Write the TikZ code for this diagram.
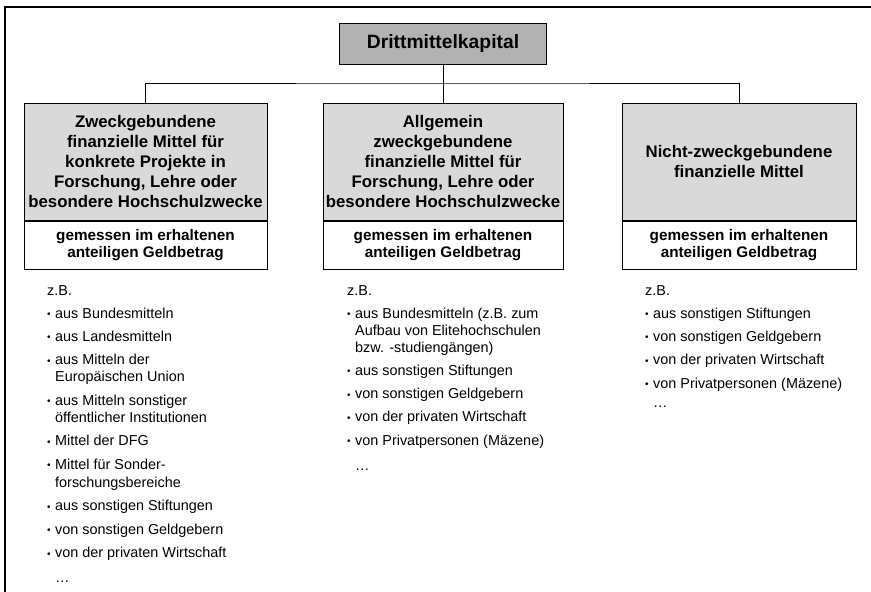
\documentclass[tikz,border=0pt]{standalone}
\usepackage{fontspec}
\setmainfont{Liberation Sans}
\usetikzlibrary{positioning}
\definecolor{dunkelgrau}{gray}{0.70}
\definecolor{hellgrau}{gray}{0.85}
\newcommand{\bul}{\makebox[8pt][l]{\raisebox{0.5pt}{\fontsize{10}{10}\selectfont\textbullet}}}
\newcommand{\ind}{\hspace*{8pt}}
\tikzset{
	kopf/.style={draw,fill=dunkelgrau,line width=1pt,inner sep=0pt,minimum width=207pt,minimum height=41pt,font=\fontsize{19.3}{23}\selectfont\bfseries},
	art/.style={draw,fill=hellgrau,line width=1pt,inner sep=0pt,minimum height=117pt,align=center,font=\fontsize{16.8}{20.2}\selectfont\bfseries},
	mass/.style={draw,fill=white,line width=1pt,inner sep=0pt,minimum height=48pt,align=center,font=\fontsize{15.3}{17.5}\selectfont\bfseries},
	liste/.style={anchor=north west,inner sep=0pt,align=left,font=\fontsize{14.4}{17}\selectfont},
}
\begin{document}
\begin{tikzpicture}[x=1pt,y=-1pt,node distance=0pt]
		\useasboundingbox (0,0) rectangle (871,592);
		\draw[line width=1.6pt] (5,592) -- (5,7) -- (871,7);
		\node[kopf] (dmk) at (443,43.5) {Drittmittelkapital};
		\node[art,minimum width=243pt] (z1) at (145.5,161.5) {Zweckgebundene\\finanzielle Mittel für\\konkrete Projekte in\\Forschung, Lehre oder\\besondere Hochschulzwecke};
		\node[art,minimum width=240pt] (z2) at (443,161.5) {Allgemein\\zweckgebundene\\finanzielle Mittel für\\Forschung, Lehre oder\\besondere Hochschulzwecke};
		\node[art,minimum width=234pt] (z3) at (739,161.5) {Nicht-zweckgebundene\\finanzielle Mittel};
		\node[mass,minimum width=243pt,below=of z1] (m1) {gemessen im erhaltenen\\anteiligen Geldbetrag};
		\node[mass,minimum width=240pt,below=of z2] (m2) {gemessen im erhaltenen\\anteiligen Geldbetrag};
		\node[mass,minimum width=234pt,below=of z3] (m3) {gemessen im erhaltenen\\anteiligen Geldbetrag};
		\coordinate (bus) at (443,83);
		\draw[line width=1pt] (dmk.south) -- (z2.north);
		\draw[line width=1pt] (z1.north) |- (bus) -| (z3.north);
		% Beispiele
		\node[liste] (l1) at (47,285) {z.B.\\[6pt]
			\bul aus Bundesmitteln\\[6pt]
			\bul aus Landesmitteln\\[6.5pt]
			\bul aus Mitteln der\\ \ind Europäischen Union\\[6.5pt]
			\bul aus Mitteln sonstiger\\ \ind öffentlicher Institutionen\\[6.5pt]
			\bul Mittel der DFG\\[6.5pt]
			\bul Mittel für Sonder-\\[1pt] \ind forschungsbereiche\\[6.5pt]
			\bul aus sonstigen Stiftungen\\[6.5pt]
			\bul von sonstigen Geldgebern\\[6.5pt]
			\bul von der privaten Wirtschaft\\[8pt]
			\ind …};
		\node[liste] (l2) at (347,285) {z.B.\\[6pt]
			\bul aus Bundesmitteln (z.B. zum\\ \ind Aufbau von Elitehochschulen\\ \ind bzw. -studiengängen)\\[6pt]
			\bul aus sonstigen Stiftungen\\[6.5pt]
			\bul von sonstigen Geldgebern\\[6pt]
			\bul von der privaten Wirtschaft\\[6.5pt]
			\bul von Privatpersonen (Mäzene)\\[8pt]
			\ind …};
		\node[liste] (l3) at (645,285) {z.B.\\[6pt]
			\bul aus sonstigen Stiftungen\\[6pt]
			\bul von sonstigen Geldgebern\\[6.5pt]
			\bul von der privaten Wirtschaft\\[6.5pt]
			\bul von Privatpersonen (Mäzene)\\[2pt]
			\ind …};
	\end{tikzpicture}
\end{document}
